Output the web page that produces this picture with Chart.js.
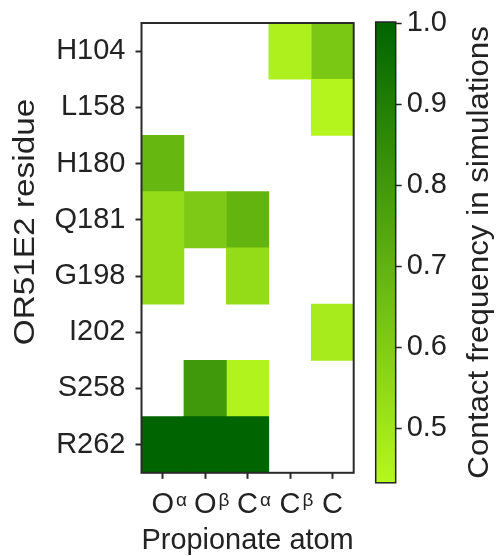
<!DOCTYPE html>
<html>
<head>
<meta charset="utf-8">
<script src="https://cdn.jsdelivr.net/npm/chart.js@4.4.0/dist/chart.umd.min.js"></script>
<style>
  html, body { margin: 0; padding: 0; background: #fff; }
  #cadre { width: 496px; height: 556px; }
</style>
</head>
<body>
<div id="cadre"><canvas id="graphique-contacts"></canvas></div>
<script>
// Résidus (lignes, de haut en bas) et atomes du propionate (colonnes)
const residus = ["H104", "L158", "H180", "Q181", "G198", "I202", "S258", "R262"];
const atomes = ["O", "O", "C", "C", "C"];
const exposants = ["α", "β", "α", "β", ""];

// Fréquence de contact par atome, une valeur par résidu (null = pas de contact)
const freqOalpha = [null, null, 0.68, 0.54, 0.54, null, null, 1.0];
const freqObeta  = [null, null, null, 0.61, null, null, 0.80, 1.0];
const freqCalpha = [null, null, null, 0.69, 0.54, null, 0.45, 1.0];
const freqCbeta  = [0.46, null, null, null, null, null, null, null];
const freqC      = [0.62, 0.44, null, null, null, 0.48, null, null];

// Barre de couleur
const echelleMin = 0.433;
const echelleMax = 1.0;
const echelleTicks = [0.5, 0.6, 0.7, 0.8, 0.9, 1.0];

const police = "'Liberation Sans', Arial, sans-serif";
const encre = "#222";

// Dégradé vert clair -> vert foncé
function couleur(v) {
    if (v === null) return "rgba(0,0,0,0)";
    const t = Math.min(1, Math.max(0, (v - echelleMin) / (echelleMax - echelleMin)));
    const bas = [182, 247, 30];
    const haut = [0, 100, 0];
    const c = bas.map((b, i) => Math.round(b + (haut[i] - b) * t));
    return "rgb(" + c.join(",") + ")";
}

const colonnes = [freqOalpha, freqObeta, freqCalpha, freqCbeta, freqC];
const datasets = colonnes.map((valeurs, c) => ({
    data: valeurs.map(v => v === null ? null : [c - 0.5, c + 0.5]),
    backgroundColor: valeurs.map(v => couleur(v)),
    borderWidth: 0,
    grouped: false,
    barPercentage: 1,
    categoryPercentage: 1,
}));

// On déplace l'axe de la barre de couleur à droite de la barre elle-même
const placementEchelle = {
    id: "placementEchelle",
    afterLayout(chart) {
        const cb = chart.scales.cb;
        const zone = chart.chartArea;
        const largeur = cb.right - cb.left;
        cb.left = zone.right + 42;
        cb.right = cb.left + largeur;
        cb.top = zone.top;
        cb.bottom = zone.bottom + 10;
        cb.configure();
    }
};

// Cadre, barre de couleur, exposants et titres verticaux
const decorations = {
    id: "decorations",
    afterDraw(chart) {
        const ctx = chart.ctx;
        const zone = chart.chartArea;
        const cb = chart.scales.cb;
        const x = chart.scales.x;

        ctx.save();
        // cadre du graphique
        ctx.strokeStyle = "#2a2a2a";
        ctx.lineWidth = 2;
        ctx.strokeRect(zone.left, zone.top, zone.right - zone.left, zone.bottom - zone.top);

        // barre de couleur
        const haut = cb.getPixelForValue(echelleMax) - 1;
        const bas = cb.getPixelForValue(echelleMin);
        const gauche = cb.left - 20;
        const degrade = ctx.createLinearGradient(0, bas, 0, haut);
        degrade.addColorStop(0, couleur(echelleMin));
        degrade.addColorStop(0.5, couleur((echelleMin + echelleMax) / 2));
        degrade.addColorStop(1, couleur(echelleMax));
        ctx.fillStyle = degrade;
        ctx.fillRect(gauche, haut, 20, bas - haut);
        ctx.strokeStyle = "#222";
        ctx.lineWidth = 1.5;
        ctx.strokeRect(gauche, haut, 20, bas - haut);

        // exposants des atomes
        ctx.fillStyle = encre;
        ctx.textBaseline = "alphabetic";
        ctx.textAlign = "left";
        const ligneBase = x.top + 6 + 10 + 15.95 + 10;
        for (let i = 0; i < atomes.length; i++) {
            if (!exposants[i]) continue;
            ctx.font = "29px " + police;
            const w = ctx.measureText(atomes[i]).width;
            ctx.font = "19px " + police;
            ctx.fillText(exposants[i], x.getPixelForValue(i) + w / 2 + 2, ligneBase - 9);
        }

        // titre de l'axe des résidus
        ctx.font = "29px " + police;
        ctx.textAlign = "center";
        ctx.save();
        ctx.translate(34, 222);
        ctx.rotate(-Math.PI / 2);
        ctx.scale(1.15, 1);
        ctx.fillText("OR51E2 residue", 0, 0);
        ctx.restore();

        // titre de la barre de couleur
        ctx.save();
        ctx.translate(488, (haut + bas) / 2);
        ctx.rotate(-Math.PI / 2);
        ctx.scale(1.08, 1);
        ctx.fillText("Contact frequency in simulations", 0, 0);
        ctx.restore();

        ctx.restore();
    }
};

const config = {
    type: "bar",
    data: {
        labels: residus,
        datasets: datasets,
    },
    options: {
        indexAxis: "y",
        responsive: true,
        maintainAspectRatio: false,
        animation: false,
        layout: {
            padding: { left: 52, top: 23, right: 86, bottom: 0 },
        },
        plugins: {
            legend: { display: false },
            tooltip: { enabled: false },
        },
        scales: {
            x: {
                type: "linear",
                position: "bottom",
                min: -0.5,
                max: 4.5,
                afterBuildTicks: (scale) => {
                    scale.ticks = atomes.map((a, i) => ({ value: i }));
                },
                ticks: {
                    callback: (v) => atomes[v] ?? "",
                    font: { family: police, size: 29, lineHeight: 1.1 },
                    color: encre,
                    padding: 10,
                    maxRotation: 0,
                    autoSkip: false,
                },
                grid: { drawOnChartArea: false, tickLength: 6, tickWidth: 2, tickColor: "#2a2a2a" },
                border: { display: false },
                title: {
                    display: true,
                    text: "Propionate atom",
                    font: { family: police, size: 29, lineHeight: 0.7 },
                    color: encre,
                    padding: { top: 0, bottom: 5 },
                },
            },
            y: {
                type: "category",
                position: "left",
                ticks: {
                    font: { family: police, size: 29, lineHeight: 0.85 },
                    color: encre,
                    padding: 10,
                },
                grid: { offset: false, drawOnChartArea: false, tickLength: 6, tickWidth: 2, tickColor: "#2a2a2a" },
                border: { display: false },
            },
            cb: {
                type: "linear",
                position: "right",
                offset: false,
                min: echelleMin,
                max: echelleMax,
                afterBuildTicks: (scale) => {
                    scale.ticks = echelleTicks.map(v => ({ value: v }));
                },
                ticks: {
                    callback: (v) => v.toFixed(1),
                    font: { family: police, size: 29 },
                    color: encre,
                    padding: 5,
                    autoSkip: false,
                },
                grid: { offset: false, drawOnChartArea: false, tickLength: 6, tickWidth: 1.5, tickColor: "#222" },
                border: { display: false },
            },
        },
    },
    plugins: [placementEchelle, decorations],
};

const graphiqueContacts = new Chart(document.querySelector("#graphique-contacts"), config);
</script>
</body>
</html>
